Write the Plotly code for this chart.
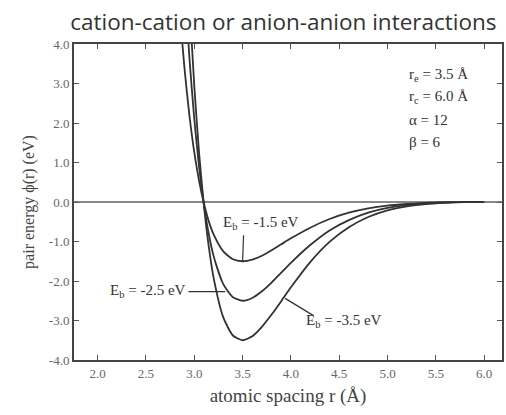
import plotly.graph_objects as go

# Interatomic spacing (Angstrom) at which the pair energy is tabulated
r_vals = [2.80, 2.85, 2.90, 2.95, 3.00, 3.05, 3.10, 3.15, 3.20, 3.30, 3.40, 3.50,
          3.60, 3.70, 3.80, 3.90, 4.00, 4.20, 4.40, 4.60, 4.80, 5.00, 5.20, 5.40,
          5.60, 5.80, 6.00]

# Pair energy phi(r) in eV for three bond energies
phi_eb15 = [6.57, 4.79, 3.35, 2.18, 1.26, 0.53, -0.04, -0.49, -0.82, -1.25, -1.45, -1.50,
            -1.46, -1.36, -1.22, -1.07, -0.92, -0.65, -0.43, -0.27, -0.16, -0.09, -0.05, -0.02,
            -0.01, 0.00, 0.00]
phi_eb25 = [10.96, 7.98, 5.58, 3.64, 2.10, 0.88, -0.07, -0.81, -1.37, -2.08, -2.41, -2.50,
            -2.43, -2.26, -2.04, -1.79, -1.54, -1.09, -0.72, -0.46, -0.27, -0.15, -0.08, -0.03,
            -0.01, 0.00, 0.00]
phi_eb35 = [15.3, 11.17, 7.81, 5.10, 2.94, 1.23, -0.10, -1.13, -1.92, -2.92, -3.38, -3.50,
            -3.40, -3.16, -2.85, -2.51, -2.16, -1.52, -1.01, -0.64, -0.38, -0.21, -0.11, -0.05,
            -0.02, 0.00, 0.00]

series = [("E_b = -1.5 eV", phi_eb15), ("E_b = -2.5 eV", phi_eb25), ("E_b = -3.5 eV", phi_eb35)]

x_ticks = [2.0, 2.5, 3.0, 3.5, 4.0, 4.5, 5.0, 5.5, 6.0]
x_ticktext = ["2.0", "2.5", "3.0", "3.5", "4.0", "4.5", "5.0", "5.5", "6.0"]
y_ticks = [-4, -3, -2, -1, 0, 1, 2, 3, 4]
y_ticktext = ["-4.0", "-3.0", "-2.0", "-1.0", "0.0", "1.0", "2.0", "3.0", "4.0"]

params = ["r<sub>e</sub> = 3.5 Å", "r<sub>c</sub> = 6.0 Å", "α = 12", "β = 6"]

SERIF = "Liberation Serif, Times New Roman, serif"
INK = "#333333"
AXIS = "#444444"

fig = go.Figure()
for name, phi in series:
    fig.add_trace(go.Scatter(
        x=r_vals, y=phi, mode="lines", name=name,
        line=dict(color=INK, width=1.8, shape="spline", smoothing=0.6),
        showlegend=False, hoverinfo="skip",
    ))

axis_common = dict(
    showline=True, linecolor=AXIS, linewidth=2, mirror="ticks",
    ticks="inside", ticklen=5, tickwidth=1, tickcolor="#555555",
    showgrid=False,
    tickfont=dict(family=SERIF, size=13, color="#666666"),
)

fig.update_xaxes(
    range=[1.755, 6.185], tickvals=x_ticks, ticktext=x_ticktext,
    zeroline=False,
    title=dict(text="atomic spacing r (Å)", font=dict(family=SERIF, size=19, color=AXIS), standoff=9),
    **axis_common,
)
fig.update_yaxes(
    range=[-4, 4], tickvals=y_ticks, ticktext=y_ticktext,
    zeroline=True, zerolinecolor="#888888", zerolinewidth=1.5,
    title=dict(text="pair energy ϕ(r) (eV)", font=dict(family=SERIF, size=16, color=AXIS), standoff=10),
    **axis_common,
)

label_font = dict(family=SERIF, size=15, color=INK)

# Bond-energy labels
fig.add_annotation(x=3.689, y=-0.53, text="E<sub>b</sub> = -1.5 eV", showarrow=False,
                   xanchor="center", yanchor="middle", font=label_font)
fig.add_annotation(x=2.52, y=-2.26, text="E<sub>b</sub> = -2.5 eV", showarrow=False,
                   xanchor="center", yanchor="middle", font=label_font)
fig.add_annotation(x=4.14, y=-3.0, text="E<sub>b</sub> = -3.5 eV", showarrow=False,
                   xanchor="left", yanchor="middle", font=label_font)

# Leader lines from the labels to their curves
leader_line = dict(color=INK, width=1.2)
fig.add_shape(type="line", x0=r_vals[11], y0=phi_eb15[11], x1=3.51, y1=-0.84,
              line=leader_line)
fig.add_shape(type="line", x0=3.32, y0=-2.27, x1=2.94, y1=-2.27, line=leader_line)
fig.add_shape(type="line", x0=3.94, y0=-2.44, x1=4.23, y1=-2.87, line=leader_line)

# Potential parameters
for i, txt in enumerate(params):
    fig.add_annotation(x=0.777, y=0.902 - i * 0.0705, xref="paper", yref="paper",
                       text=txt, showarrow=False, xanchor="left", yanchor="middle",
                       font=dict(family=SERIF, size=15, color=INK))

fig.update_layout(
    width=506, height=415,
    margin=dict(l=74, r=2, t=44, b=55),
    paper_bgcolor="white", plot_bgcolor="white",
    title=dict(text="cation-cation or anion-anion interactions",
               font=dict(family="Open Sans, sans-serif", size=22.5, color=INK),
               x=0.56, xanchor="center", xref="container",
               y=1 - 22 / 415, yanchor="middle", yref="container"),
)

fig.write_html("out.html")
